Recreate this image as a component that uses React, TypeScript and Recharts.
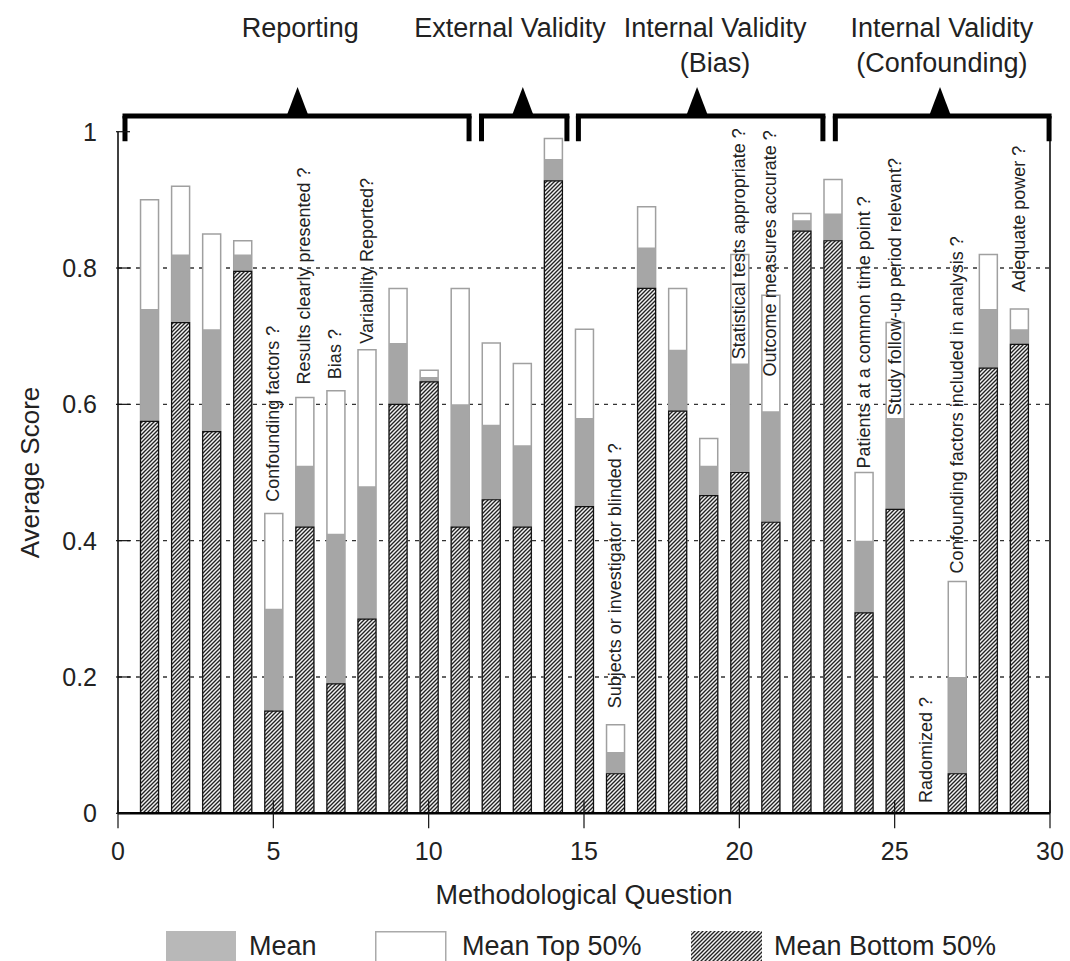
import { Bar, BarChart, CartesianGrid, Label, ReferenceDot, ReferenceLine, XAxis, YAxis } from "recharts"

const questions = [1, 2, 3, 4, 5, 6, 7, 8, 9, 10, 11, 12, 13, 14, 15, 16, 17, 18, 19, 20, 21, 22, 23, 24, 25, 26, 27, 28, 29]
const meanTop = [0.9, 0.92, 0.85, 0.84, 0.44, 0.61, 0.62, 0.68, 0.77, 0.65, 0.77, 0.69, 0.66, 0.99, 0.71, 0.13, 0.89, 0.77, 0.55, 0.82, 0.76, 0.88, 0.93, 0.5, 0.72, 0, 0.34, 0.82, 0.74]
const meanAll = [0.74, 0.82, 0.71, 0.82, 0.3, 0.51, 0.41, 0.48, 0.69, 0.64, 0.6, 0.57, 0.54, 0.96, 0.58, 0.09, 0.83, 0.68, 0.51, 0.66, 0.59, 0.87, 0.88, 0.4, 0.58, 0, 0.2, 0.74, 0.71]
const meanBottom = [0.575, 0.72, 0.56, 0.795, 0.15, 0.42, 0.19, 0.285, 0.6, 0.633, 0.42, 0.46, 0.42, 0.928, 0.45, 0.058, 0.77, 0.59, 0.466, 0.5, 0.427, 0.854, 0.84, 0.294, 0.446, 0, 0.058, 0.653, 0.688]

const xTicks = [0, 5, 10, 15, 20, 25, 30]
const yTicks = [0, 0.2, 0.4, 0.6, 0.8, 1]
const gridValues = [0.2, 0.4, 0.6, 0.8]

// question annotations (rotated text above the bars)
const labelQ = [5, 6, 7, 8, 16, 20, 21, 24, 25, 26, 27, 29]
const labelAt = [0.457, 0.629, 0.637, 0.689, 0.154, 0.666, 0.641, 0.506, 0.584, 0.015, 0.352, 0.765]
const labelText = [
  "Confounding factors ?",
  "Results clearly presented ?",
  "Bias ?",
  "Variability Reported?",
  "Subjects or investigator blinded ?",
  "Statistical tests appropriate ?",
  "Outcome measures accurate ?",
  "Patients at a common time point ?",
  "Study follow-up period relevant?",
  "Radomized ?",
  "Confounding factors included in analysis ?",
  "Adequate power ?",
]

// category brackets along the top
const groupStart = [0.225, 11.7, 14.82, 23.09]
const groupEnd = [11.3, 14.45, 22.69, 29.97]
const groupApex = [5.78, 13.03, 18.64, 26.46]
const groupTitleX = [5.87, 12.62, 19.22, 26.52]
const groupTitle = [["Reporting"], ["External Validity"], ["Internal Validity", "(Bias)"], ["Internal Validity", "(Confounding)"]]
const bracketY = 1.023
const bracketFoot = 0.986

const data = questions.map((q, i) => ({ q, top: meanTop[i], mean: meanAll[i], bottom: meanBottom[i] }))

const FONT = '"Liberation Sans", Arial, Helvetica, sans-serif'
const INK = "#222"
const GRAY = "#a6a6a6"
const BAR = 18

function XTick(props: any) {
  const { x, y, payload } = props
  return (
    <g>
      <line x1={x} x2={x} y1={y - 13} y2={y + 15} stroke="#111" strokeWidth={1.2} />
      <text x={x} y={y + 47} textAnchor="middle" fontSize={25} fontFamily={FONT} fill={INK}>
        {payload.value}
      </text>
    </g>
  )
}

function YTickLeft(props: any) {
  const { x, y, payload } = props
  return (
    <g>
      <line x1={x - 2} x2={x + 12} y1={y} y2={y} stroke="#111" strokeWidth={1.2} />
      <text x={x - 21} y={y} dy="0.36em" textAnchor="end" fontSize={25} fontFamily={FONT} fill={INK}>
        {payload.value}
      </text>
    </g>
  )
}

function YTickRight(props: any) {
  const { x, y } = props
  return <line x1={x - 12} x2={x + 2} y1={y} y2={y} stroke="#111" strokeWidth={1.2} />
}

function Triangle(props: any) {
  const { cx, cy } = props
  return <path d={`M${cx - 11},${cy} L${cx},${cy - 29} L${cx + 11},${cy} Z`} fill="#000" />
}

function titleShape(lines: string[]) {
  return (props: any) => {
    const { cx, cy } = props
    return (
      <g>
        {lines.map((t, k) => (
          <text key={k} x={cx} y={cy - 79 + k * 35} textAnchor="middle" fontSize={27} fontFamily={FONT} fill={INK}>
            {t}
          </text>
        ))}
      </g>
    )
  }
}

function rotatedShape(text: string) {
  return (props: any) => {
    const { cx, cy } = props
    return (
      <text
        x={cx}
        y={cy}
        transform={`rotate(-90 ${cx} ${cy})`}
        textAnchor="start"
        dominantBaseline="central"
        fontSize={18}
        fontFamily={FONT}
        fill={INK}
      >
        {text}
      </text>
    )
  }
}

function HatchDefs({ id }: { id: string }) {
  return (
    <defs>
      <pattern id={id} patternUnits="userSpaceOnUse" width={4} height={4}>
        <rect width={4} height={4} fill="#f2f2f2" />
        <path d="M-1,1 l2,-2 M0,4 l4,-4 M3,5 l2,-2" stroke="#222" strokeWidth={1.35} />
      </pattern>
    </defs>
  )
}

function Legend() {
  const text = { position: "absolute" as const, top: 931, fontSize: 27, lineHeight: "31px", fontFamily: FONT, color: INK }
  return (
    <>
      <svg style={{ position: "absolute", left: 166, top: 931 }} width={70} height={36}>
        <rect x={0} y={0} width={70} height={36} fill="#b8b8b8" />
      </svg>
      <span style={{ ...text, left: 249 }}>Mean</span>
      <svg style={{ position: "absolute", left: 375, top: 931 }} width={72} height={36}>
        <rect x={0.75} y={0.75} width={70} height={36} fill="#fff" stroke="#aaa" strokeWidth={1.5} />
      </svg>
      <span style={{ ...text, left: 462 }}>Mean Top 50%</span>
      <svg style={{ position: "absolute", left: 691, top: 931 }} width={71} height={36}>
        <HatchDefs id="hatchLegend" />
        <rect x={0} y={0} width={71} height={36} fill="url(#hatchLegend)" />
      </svg>
      <span style={{ ...text, left: 774 }}>Mean Bottom 50%</span>
    </>
  )
}

export default function App() {
  return (
    <div style={{ position: "absolute", left: 0, top: 0, width: 1070, height: 961, overflow: "hidden", background: "#fff" }}>
      <BarChart
        width={1070}
        height={961}
        data={data}
        barGap={-BAR}
        margin={{ top: 131.7, right: 0, bottom: 0, left: 0 }}
      >
        <HatchDefs id="hatch" />
        <CartesianGrid
          vertical={false}
          horizontalValues={gridValues}
          stroke="#333"
          strokeWidth={1.3}
          strokeDasharray="4 5"
        />
        <XAxis
          dataKey="q"
          type="number"
          domain={[0, 30]}
          ticks={xTicks}
          interval={0}
          height={147.7}
          tickSize={0}
          tickMargin={0}
          tickLine={false}
          tick={XTick}
          axisLine={{ stroke: "#000", strokeWidth: 2.5 }}
        >
          <Label
            content={(p: any) => (
              <text
                x={p.viewBox.x + p.viewBox.width / 2}
                y={p.viewBox.y + 91}
                textAnchor="middle"
                fontSize={27}
                fontFamily={FONT}
                fill={INK}
              >
                Methodological Question
              </text>
            )}
          />
        </XAxis>
        <YAxis
          type="number"
          domain={[0, 1]}
          ticks={yTicks}
          interval={0}
          width={118}
          tickSize={0}
          tickMargin={0}
          tickLine={false}
          tick={YTickLeft}
          axisLine={{ stroke: "#000", strokeWidth: 1.5 }}
        >
          <Label
            content={(p: any) => {
              const cx = 30
              const cy = p.viewBox.y + p.viewBox.height / 2
              return (
                <text
                  x={cx}
                  y={cy}
                  transform={`rotate(-90 ${cx} ${cy})`}
                  textAnchor="middle"
                  dominantBaseline="central"
                  fontSize={26}
                  fontFamily={FONT}
                  fill={INK}
                >
                  Average Score
                </text>
              )
            }}
          />
        </YAxis>
        <YAxis
          yAxisId="right"
          orientation="right"
          type="number"
          domain={[0, 1]}
          ticks={yTicks}
          interval={0}
          width={20}
          tickSize={0}
          tickMargin={0}
          tickLine={false}
          tick={YTickRight}
          axisLine={{ stroke: "#000", strokeWidth: 1.5 }}
        />
        <Bar dataKey="top" fill="#fff" stroke="#a0a0a0" strokeWidth={1.5} barSize={BAR} isAnimationActive={false} />
        <Bar dataKey="mean" fill={GRAY} barSize={BAR} isAnimationActive={false} />
        <Bar dataKey="bottom" fill="url(#hatch)" stroke="#111" strokeWidth={1.2} barSize={BAR} isAnimationActive={false} />

        {groupStart.map((s, i) => (
          <ReferenceLine
            key={`h${i}`}
            segment={[{ x: s, y: bracketY }, { x: groupEnd[i], y: bracketY }]}
            stroke="#000"
            strokeWidth={5}
            strokeLinecap="square"
            ifOverflow="visible"
          />
        ))}
        {groupStart.map((s, i) => (
          <ReferenceLine
            key={`l${i}`}
            segment={[{ x: s, y: bracketY }, { x: s, y: bracketFoot }]}
            stroke="#000"
            strokeWidth={5}
            ifOverflow="visible"
          />
        ))}
        {groupEnd.map((e, i) => (
          <ReferenceLine
            key={`r${i}`}
            segment={[{ x: e, y: bracketY }, { x: e, y: bracketFoot }]}
            stroke="#000"
            strokeWidth={5}
            ifOverflow="visible"
          />
        ))}
        {groupApex.map((a, i) => (
          <ReferenceDot key={`t${i}`} x={a} y={bracketY} r={0} ifOverflow="visible" shape={Triangle} />
        ))}
        {groupTitleX.map((tx, i) => (
          <ReferenceDot key={`g${i}`} x={tx} y={bracketY} r={0} ifOverflow="visible" shape={titleShape(groupTitle[i])} />
        ))}
        {labelQ.map((q, i) => (
          <ReferenceDot key={`q${i}`} x={q} y={labelAt[i]} r={0} ifOverflow="visible" shape={rotatedShape(labelText[i])} />
        ))}
      </BarChart>
      <Legend />
    </div>
  )
}
